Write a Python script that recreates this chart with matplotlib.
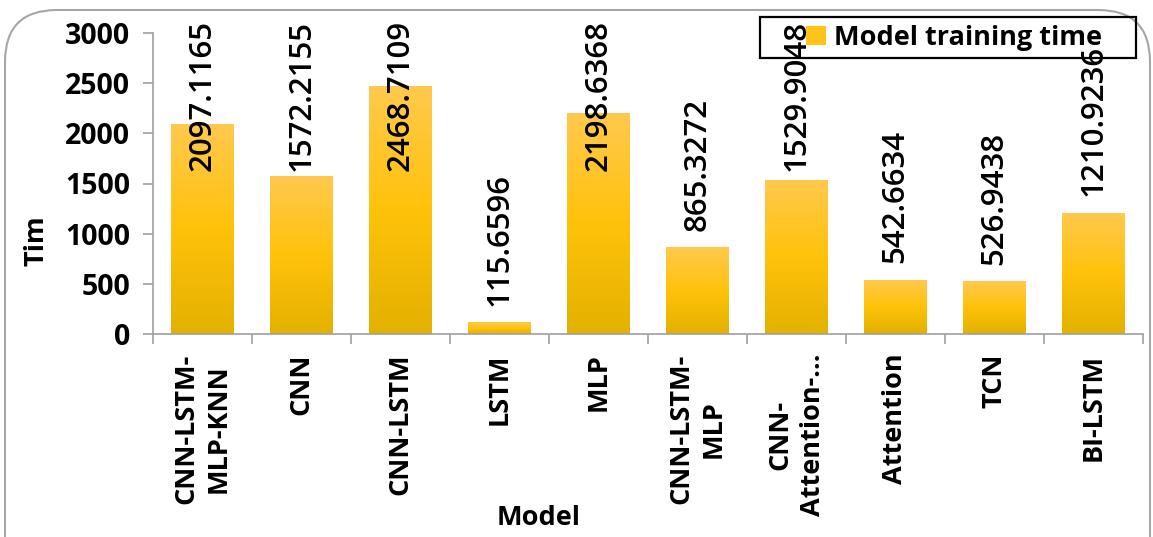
import numpy as np
import matplotlib
matplotlib.use("Agg")
import matplotlib.pyplot as plt
from matplotlib.patches import FancyBboxPatch, Patch, Rectangle
from matplotlib.colors import LinearSegmentedColormap

plt.rcParams['font.family'] = ['Open Sans', 'DejaVu Sans']

categories = ["CNN-LSTM-\nMLP-KNN", "CNN", "CNN-LSTM", "LSTM", "MLP",
              "CNN-LSTM-\nMLP", "CNN-\nAttention-…", "Attention", "TCN", "BI-LSTM"]
values = [2097.1165, 1572.2155, 2468.7109, 115.6596, 2198.6368,
          865.3272, 1529.9048, 542.6634, 526.9438, 1210.9236]
value_labels = ["2097.1165", "1572.2155", "2468.7109", "115.6596", "2198.6368",
                "865.3272", "1529.9048", "542.6634", "526.9438", "1210.9236"]
yticks = [0, 500, 1000, 1500, 2000, 2500, 3000]
series_name = "Model training time"

W, H = 1153, 537
fig = plt.figure(figsize=(W / 100, H / 100), dpi=100)
ax = fig.add_axes([153 / W, (H - 334) / H, 990 / W, 301 / H])

grad_cmap = LinearSegmentedColormap.from_list(
    "gold", [(0.0, "#E3B100"), (0.5, "#FFC20A"), (1.0, "#FFC94E")])
grad = np.linspace(0, 1, 256).reshape(-1, 1)

x = np.arange(len(categories))
bars = ax.bar(x, values, width=0.636, color="none", edgecolor="none", zorder=2)
for b in bars:
    x0, y0 = b.get_x(), b.get_y()
    im = ax.imshow(grad, cmap=grad_cmap, origin="lower", aspect="auto",
                   extent=[x0, x0 + b.get_width(), y0, y0 + b.get_height()],
                   zorder=2, interpolation="bilinear")
    im.set_clip_path(b)

ax.set_xlim(-0.5, len(categories) - 0.5)
ax.set_ylim(0, 3000)
ax.set_yticks(yticks)
ax.set_yticklabels([str(t) for t in yticks], fontsize=20.5, fontweight="bold")
ax.set_xticks(x)
ax.set_xticklabels(categories, rotation=90, fontsize=19.5, fontweight="bold",
                   multialignment="center", linespacing=1.3)
ax.set_xticks(np.arange(len(categories) + 1) - 0.5, minor=True)
ax.tick_params(axis="x", which="major", length=0, pad=14)
ax.tick_params(axis="x", which="minor", length=7.5, width=1.2, color="#A0A0A0", direction="out")
ax.tick_params(axis="y", length=7.5, width=1.2, color="#A0A0A0", pad=9)
for s in ["top", "right"]:
    ax.spines[s].set_visible(False)
for s in ["left", "bottom"]:
    ax.spines[s].set_color("#A0A0A0")
    ax.spines[s].set_linewidth(1.2)

# value labels
texts = []
for xi, v, lab in zip(x, values, value_labels):
    t = ax.text(xi, v + 165, lab, rotation=90, ha="center", va="bottom",
                fontsize=22.5, fontweight=600, clip_on=False, zorder=20)
    texts.append(t)

fig.text(37 / W, 1 - 241 / H, "Tim", rotation=90, ha="center", va="center",
         fontsize=19.5, fontweight="bold")
fig.text(539 / W, 1 - 518 / H, "Model", ha="center", va="center",
         fontsize=19.5, fontweight="bold")

# legend (frame drawn as a separate rectangle)
leg = fig.legend(handles=[Patch(facecolor="#FFC31A", edgecolor="none", label=series_name)],
                 loc="center left", bbox_to_anchor=(806 / W, 1 - 38 / H),
                 frameon=False, prop={"weight": "bold", "size": 19.5},
                 handlelength=0.75, handleheight=0.75, handletextpad=0.3,
                 borderpad=0.0, borderaxespad=0)
leg.set_zorder(10)
frame = Rectangle((760 / W, 1 - 58 / H), 376 / W, 41 / H, transform=fig.transFigure,
                  facecolor="none", edgecolor="black", linewidth=1.6, zorder=11)
fig.patches.append(frame)

fig.canvas.draw()
r = fig.canvas.get_renderer()
top_limit_px = H - 20
for t, xi in zip(texts, x):
    bb = t.get_window_extent(r)
    if bb.y1 > top_limit_px:
        y_data = ax.transData.inverted().transform((0, top_limit_px))[1]
        t.set_position((xi, y_data))
        t.set_va("top")

border = FancyBboxPatch((5 / W, -0.2), 1145 / W, 1 - 10 / H + 0.2,
                        boxstyle="round,pad=0,rounding_size=0.045",
                        transform=fig.transFigure, facecolor="none",
                        edgecolor="#A6A6A6", linewidth=1.5, mutation_aspect=W / H)
fig.patches.append(border)

fig.savefig("out.png", dpi=100)
